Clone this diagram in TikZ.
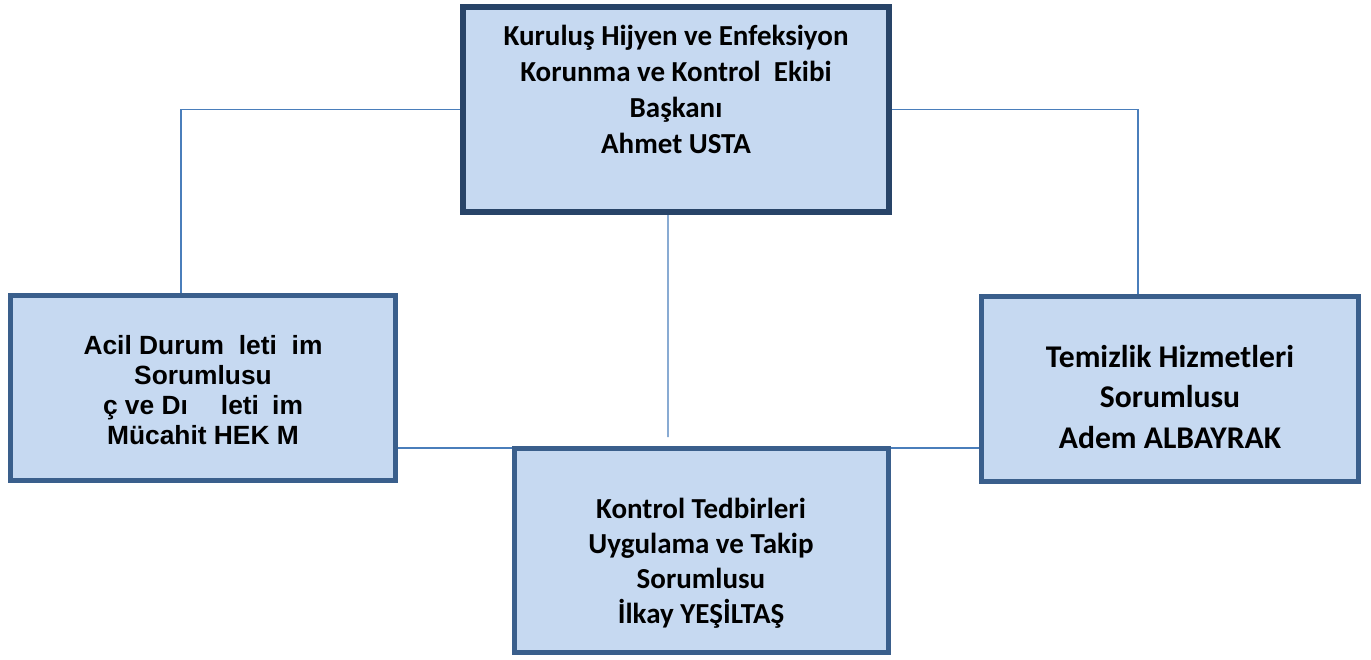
\documentclass[tikz,border=0pt]{standalone}
\usepackage{fontspec}
\setmainfont{Carlito}
\newfontfamily\arialfont{Liberation Sans}
\usetikzlibrary{backgrounds}
\definecolor{BoxFill}{RGB}{198,217,241}
\definecolor{BoxEdge}{RGB}{58,95,140}
\definecolor{HeadEdge}{RGB}{40,68,104}
\definecolor{LinkBlue}{RGB}{74,126,187}

\begin{document}
\begin{tikzpicture}[x=0.02cm, y=-0.02cm,
    box/.style={draw=BoxEdge, fill=BoxFill, line width=2.8pt, inner sep=0pt},
    headbox/.style={box, draw=HeadEdge, line width=3.2pt},
    txt/.style={align=center, inner sep=0pt, font=\bfseries\fontsize{16.5}{20.5}\selectfont},
    link/.style={draw=LinkBlue, line width=0.7pt}]
      \useasboundingbox (0,0) rectangle (1371,659);
      % boxes
      \node[headbox, minimum width=8.52cm, minimum height=4.1cm] (head) at (676,109.5) {};
      \node[box, minimum width=7.7cm, minimum height=3.7cm] (acil) at (203,388) {};
      \node[box, minimum width=7.54cm, minimum height=3.7cm] (temiz) at (1170,389) {};
      \node[box, minimum width=7.48cm, minimum height=4.08cm] (kontrol) at (701.5,550.5) {};
      % texts
      \node[txt] (headTxt) at (676,89) {Kuruluş Hijyen ve Enfeksiyon\\Korunma ve Kontrol\ \ Ekibi\\Başkanı\\Ahmet USTA};
      \node[txt, font=\arialfont\bfseries\fontsize{15}{17.2}\selectfont] (acilTxt) at (203,390)
        {Acil Durum\hspace{0.56em}leti\hspace{0.56em}im\\Sorumlusu\\ç ve Dı\hspace{1.25em}leti\hspace{0.5em}im\\Mücahit HEK M};
      \node[txt, font=\bfseries\fontsize{18}{22.8}\selectfont] (temizTxt) at (1170,397) {Temizlik Hizmetleri\\Sorumlusu\\Adem ALBAYRAK};
      \node[txt, font=\bfseries\fontsize{16.5}{20}\selectfont] (kontrolTxt) at (701,563) {Kontrol Tedbirleri\\Uygulama ve Takip\\Sorumlusu\\İlkay YEŞİLTAŞ};
      \coordinate (midEnd) at (668,437);
      % connectors
      \begin{pgfonlayer}{background}
        \draw[link] (head.west) -| ([xshift=-0.44cm]acil.north);
        \draw[link] (head.east) -| ([xshift=-0.64cm]temiz.north);
        \draw[link] ([xshift=-0.16cm]head.south) -- (midEnd);
        \draw[link] (acil.east |- 0,448) -- (temiz.west |- 0,448);
      \end{pgfonlayer}
\end{tikzpicture}
\end{document}
